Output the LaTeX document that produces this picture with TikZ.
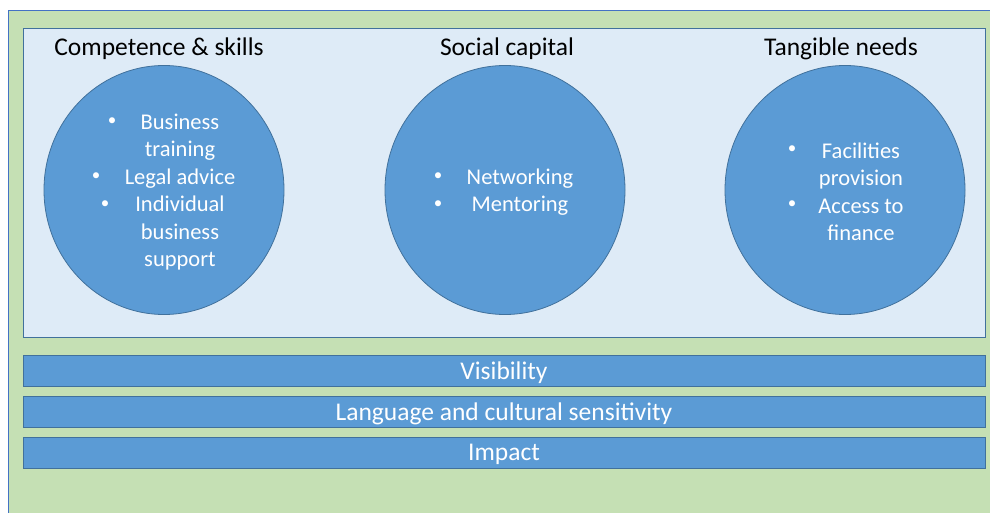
\documentclass[tikz,border=0pt]{standalone}
\usepackage{fontspec}
\usetikzlibrary{shapes.geometric}
\setmainfont{Carlito}
\definecolor{greenbg}{HTML}{C5E0B4}
\definecolor{lightbox}{HTML}{DEEBF7}
\definecolor{cblue}{HTML}{5B9BD5}
\definecolor{cborder}{HTML}{41719C}
\definecolor{outerline}{HTML}{4472C4}
\begin{document}
\begin{tikzpicture}[x=1pt,y=-1pt,
  title/.style={font=\fontsize{25.5}{30}\selectfont, text=black, inner sep=0pt},
  circ/.style={ellipse, fill=cblue, draw=cborder, line width=0.8pt, minimum width=240pt, minimum height=249pt, inner sep=0pt},
  ctext/.style={font=\fontsize{22.5}{27.5}\selectfont, text=white, align=center, inner sep=0pt},
  bul/.style={font=\fontsize{17}{17}\selectfont, text=white, inner sep=0pt},
  bar/.style={rectangle, fill=cblue, draw=cborder, line width=0.8pt, minimum width=962pt, minimum height=31pt, inner sep=0pt},
  bartext/.style={font=\fontsize{25.5}{30}\selectfont, text=white, inner sep=0pt}]
\useasboundingbox (0,0) rectangle (990,513);
\fill[white] (0,0) rectangle (990,513);
\draw[fill=greenbg, draw=outerline, line width=0.8pt] (8,10) rectangle (996,520);
\draw[fill=lightbox, draw=cborder, line width=0.8pt] (23,28) rectangle (985,337);
% titles
\node[title] (t1) at (159,49) {Competence \& skills};
\node[title] (t2) at (507,49) {Social capital};
\node[title] (t3) at (841,49) {Tangible needs};
% circles
\node[circ] (c1) at (164,190) {};
\node[circ] (c2) at (505,190) {};
\node[circ] (c3) at (845,190) {};
% circle 1 text
\node[ctext] (x1) at (180,192) {Business\\training\\Legal advice\\Individual\\business\\support};
\node[bul] (b1a) at (112,122) {•};
\node[bul] (b1b) at (96,177) {•};
\node[bul] (b1c) at (105,205) {•};
% circle 2 text
\node[ctext] (x2) at (520,192) {Networking\\Mentoring};
\node[bul] (b2a) at (438,177) {•};
\node[bul] (b2b) at (438,205) {•};
% circle 3 text
\node[ctext] (x3) at (861,192) {Facilities\\provision\\Access to\\finance};
\node[bul] (b3a) at (792,150) {•};
\node[bul] (b3b) at (792,205) {•};
% bars
\node[bar] (v) at (504,371) {};
\node[bar] (l) at (504,412) {};
\node[bar] (i) at (504,452.5) {};
\node[bartext] (vt) at (v.center) [yshift=-1.5pt] {Visibility};
\node[bartext] (lt) at (l.center) [yshift=-1.5pt] {Language and cultural sensitivity};
\node[bartext] (it) at (i.center) [yshift=-1.5pt] {Impact};
\end{tikzpicture}
\end{document}
